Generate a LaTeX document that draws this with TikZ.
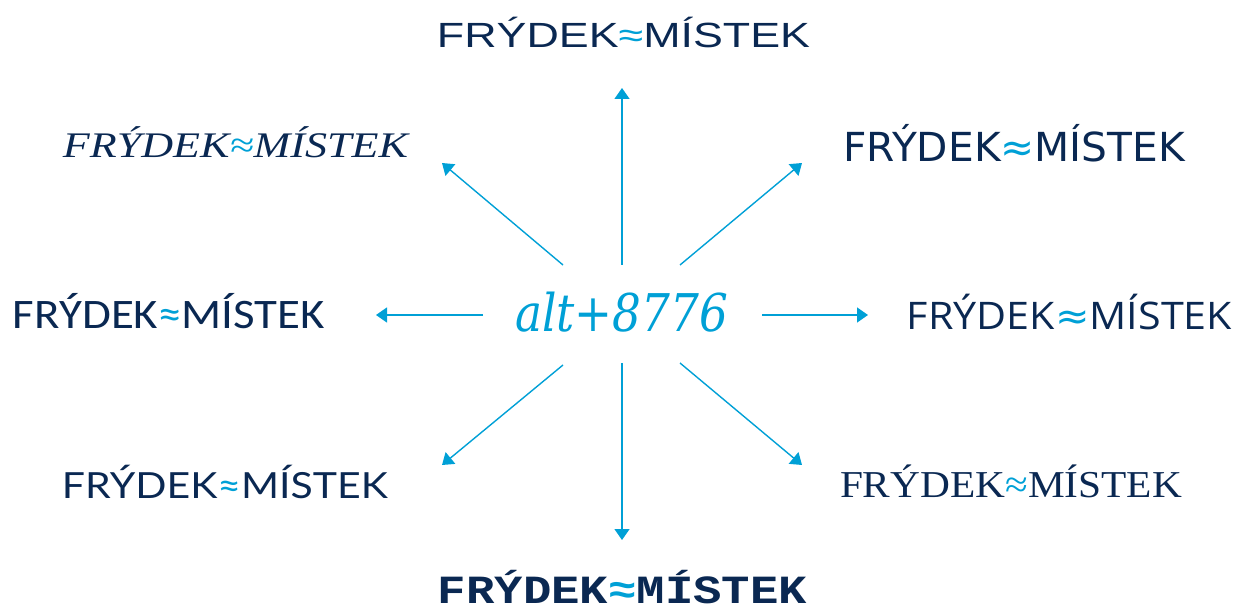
\documentclass[tikz,border=0pt]{standalone}
\usepackage{fontspec}
\usepackage{graphicx}
\usetikzlibrary{arrows.meta}
\newfontfamily\fArial{Liberation Sans}
\newfontfamily\fScript{Liberation Serif}[UprightFont=*-Italic]
\newfontfamily\fVerd{DejaVu Sans}
\newfontfamily\fCalib{Carlito}
\newfontfamily\fOpen{Open Sans}
\newfontfamily\fSlab{DejaVu Serif}[UprightFont=* Italic]
\newfontfamily\fLato{Lato}
\newfontfamily\fTimes{Liberation Serif}
\newfontfamily\fMono{Liberation Mono}[UprightFont=*-Bold]
\definecolor{navy}{RGB}{10,40,82}
\definecolor{acc}{RGB}{0,160,214}
\newcommand\fmword[1][]{{\color{navy}FRÝDEK}{\color{acc}#1≈}{\color{navy}MÍSTEK}}
\newcommand\fmlabel[4][]{\resizebox{#2pt}{\height}{\fontsize{#3}{#3}#4\selectfont\fmword[#1]}}
\begin{document}
\begin{tikzpicture}[x=1pt,y=-1pt,
  lbl/.style={inner sep=0pt,anchor=base},
  arr/.style={draw=acc,line width=1.4pt,-{Triangle[width=15pt,length=11pt]}}]
\useasboundingbox (0,0) rectangle (1240,609);
\node[lbl] (top) at (623.5,48) {\fmlabel{373}{35}{\fArial}};
\node[lbl] (tl) at (235.5,158) {\fmlabel{345}{36}{\fScript}};
\node[lbl] (tr) at (1014,162) {\fmlabel{342}{40}{\fVerd}};
\node[lbl] (l) at (169,329) {\fmlabel{312}{42}{\fCalib}};
\node[lbl] (r) at (1069.5,330) {\fmlabel[\fVerd]{325}{38}{\fOpen}};
\node[lbl] (bl) at (225,498) {\fmlabel{326}{36}{\fLato}};
\node[lbl] (br) at (1011,497) {\fmlabel{342}{38}{\fTimes}};
\node[lbl] (bot) at (622.5,603) {\fmlabel{369}{40}{\fMono}};
\node[lbl] (c) at (621.5,332) {\resizebox{213pt}{\height}{\fontsize{52}{52}\fSlab\selectfont\color{acc}alt+8776}};
% arrow end points
\coordinate (s1) at (622,265); \coordinate (e1) at (622,88);
\coordinate (s2) at (622,363); \coordinate (e2) at (622,540);
\coordinate (s3) at (483,315); \coordinate (e3) at (376,315);
\coordinate (s4) at (762,315); \coordinate (e4) at (868,315);
\coordinate (s5) at (563,265); \coordinate (e5) at (442,163);
\coordinate (s6) at (680,265); \coordinate (e6) at (802,163);
\coordinate (s7) at (563,365); \coordinate (e7) at (442,465);
\coordinate (s8) at (680,363); \coordinate (e8) at (802,465);
\foreach \i in {1,...,8} {\draw[arr] (s\i) -- (e\i);}
\end{tikzpicture}
\end{document}
